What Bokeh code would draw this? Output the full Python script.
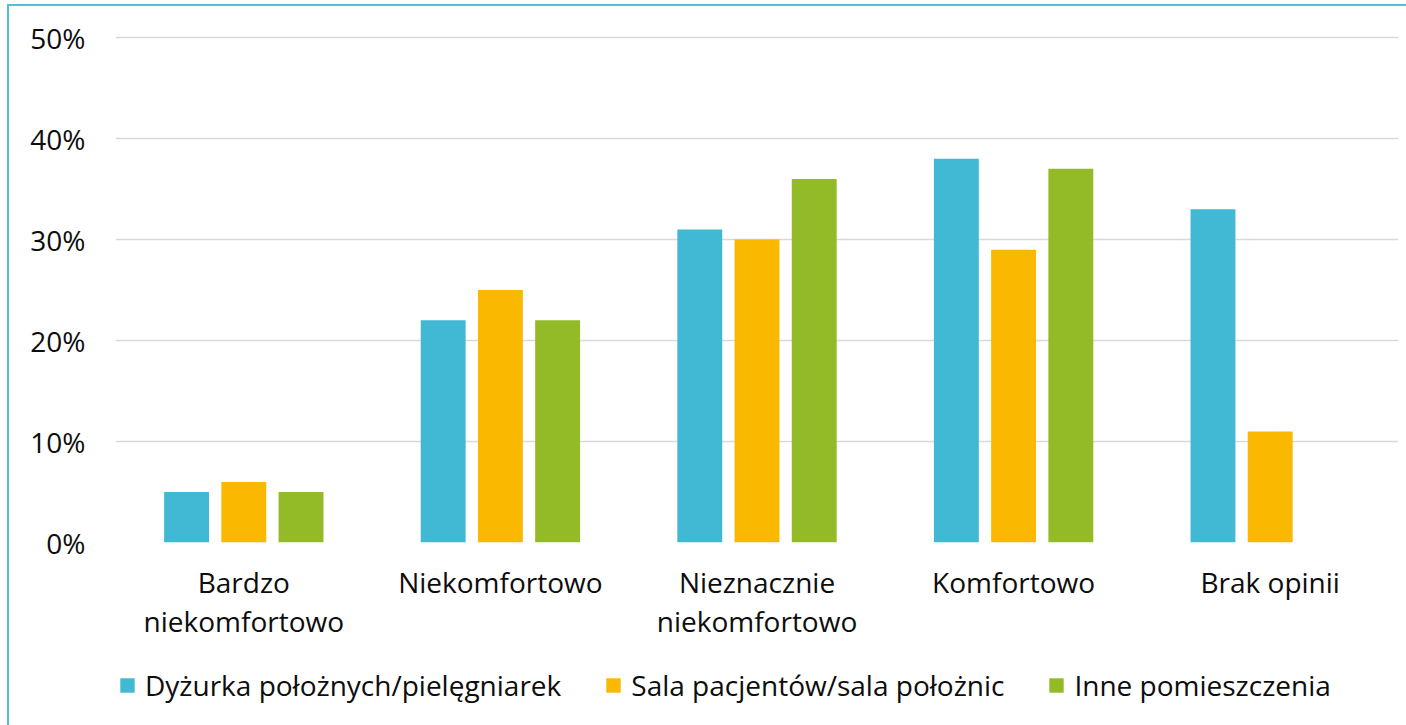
from bokeh.plotting import figure
from bokeh.layouts import column
from bokeh.models import ColumnDataSource, FactorRange, Legend, LegendItem, PrintfTickFormatter, FixedTicker
from bokeh.transform import dodge
from bokeh.embed import file_html
from bokeh.resources import INLINE

categories = ["Bardzo\nniekomfortowo", "Niekomfortowo", "Nieznacznie\nniekomfortowo", "Komfortowo", "Brak opinii"]
series_names = ["Dyżurka położnych/pielęgniarek", "Sala pacjentów/sala położnic", "Inne pomieszczenia"]
dyzurka = [5, 22, 31, 38, 33]
sala = [6, 25, 30, 29, 11]
inne = [5, 22, 36, 37, 0]
y_ticks = [0, 10, 20, 30, 40, 50]

colors = ["#41B9D5", "#FAB800", "#93BB27"]
FONT = "Open Sans"

src = ColumnDataSource(dict(cat=categories, a=dyzurka, b=sala, c=inne))

p = figure(x_range=FactorRange(*categories, range_padding=0), y_range=(0, 51),
           frame_width=1283, frame_height=515, output_backend="svg", toolbar_location=None,
           min_border_left=106, min_border_right=8, min_border_top=21, min_border_bottom=110)
p.outline_line_color = None
p.background_fill_color = "white"
p.border_fill_color = "white"

for col, off, color in zip(["a", "b", "c"], [-0.223, 0.0, 0.223], colors):
    p.vbar(x=dodge("cat", off, range=p.x_range), top=col, width=0.175, source=src,
           fill_color=color, line_color=None)

p.xgrid.grid_line_color = None
p.ygrid.grid_line_color = "#D9D9D9"
p.ygrid.grid_line_width = 1.5
p.yaxis.ticker = FixedTicker(ticks=y_ticks)
p.yaxis.formatter = PrintfTickFormatter(format="%d%%")
for ax in (p.xaxis[0], p.yaxis[0]):
    ax.axis_line_color = None
    ax.major_tick_line_color = None
    ax.minor_tick_line_color = None
    ax.major_tick_out = 0
    ax.major_tick_in = 0
    ax.major_label_text_font = FONT
    ax.major_label_text_font_size = "28px"
    ax.major_label_text_color = "#0D0D0D"
p.xaxis.major_label_text_line_height = 1.03
p.yaxis.major_label_standoff = 30
p.xaxis.major_label_standoff = 20

# legend strip below the chart (zero-height swatch bars, only used for the legend)
leg = figure(width=1397, height=73, x_range=(0, 1), y_range=(0, 1), output_backend="svg",
             toolbar_location=None, min_border_left=106, min_border_right=8,
             min_border_top=0, min_border_bottom=7)
leg.axis.visible = False
leg.grid.grid_line_color = None
leg.outline_line_color = None
leg_src = ColumnDataSource(dict(x=[0.5], top=[0]))
leg_renderers = [leg.vbar(x="x", top="top", bottom=0, width=0.1, source=leg_src, fill_color=c, line_color=None)
                 for c in colors]
legend = Legend(items=[LegendItem(label=n, renderers=[r]) for n, r in zip(series_names, leg_renderers)],
                orientation="horizontal", location="left",
                label_text_font=FONT, label_text_font_size="28px", label_text_color="#0D0D0D",
                glyph_width=18, glyph_height=18, label_standoff=9, spacing=43,
                border_line_color=None, background_fill_alpha=0, padding=0, margin=3)
leg.add_layout(legend, "center")

layout = column(p, leg, spacing=0)
layout.styles = {"border-top": "2px solid #4FC0D8", "border-left": "2px solid #4FC0D8",
                 "margin-left": "7px", "margin-top": "4px"}

open("out.html", "w").write(file_html(layout, INLINE))
